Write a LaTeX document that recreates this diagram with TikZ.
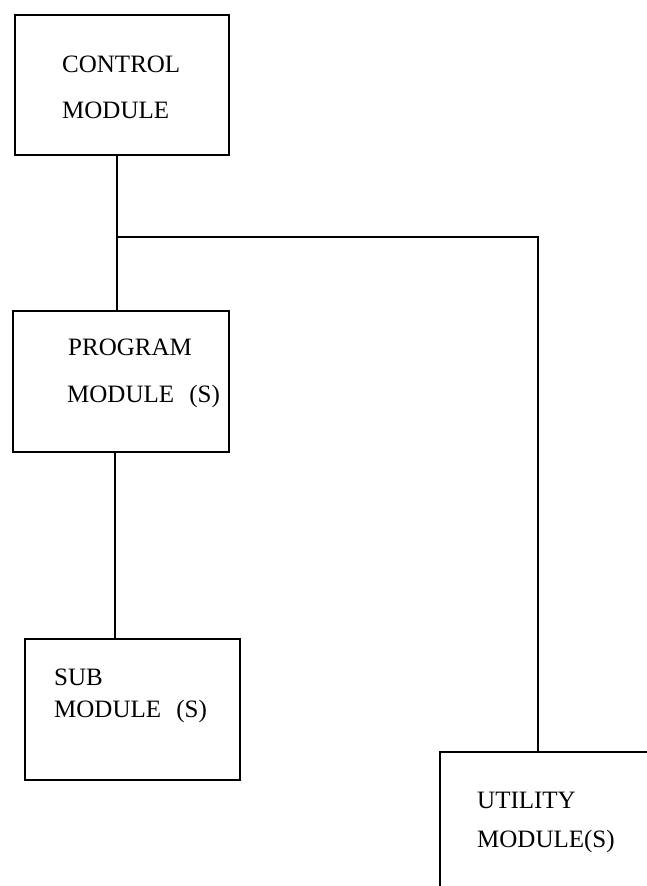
\documentclass[tikz,border=0pt]{standalone}
\usepackage{fontspec}
\setmainfont{Liberation Serif}
\usetikzlibrary{positioning}

\begin{document}
\begin{tikzpicture}[x=1pt,y=-1pt,
  modbox/.style={draw,line width=1.9pt,inner sep=0pt},
  modtext/.style={anchor=base west,inner sep=0pt,font=\fontsize{25}{28}\selectfont}]
\path[use as bounding box] (0,0) rectangle (647,886);
\begin{scope}
\clip (0,0) rectangle (647,886);
% boxes
\node[modbox,minimum width=214pt,minimum height=140pt] (ctrl) at (122,85) {};
\node[modbox,minimum width=216pt,minimum height=141pt] (prog) at (121,381.5) {};
\node[modbox,minimum width=215pt,minimum height=141pt] (sub) at (132.5,709.5) {};
\node[modbox,minimum width=240pt,minimum height=216pt] (util) at (560,860) {};

% texts
\node[modtext] (ctrlA) at (62,72) {CONTROL};
\node[modtext] (ctrlB) at (62,118) {MODULE};
\node[modtext] (progA) at (68,355) {PROGRAM};
\node[modtext] (progB) at (67,402) {MODULE\hspace{9pt} (S)};
\node[modtext] (subA) at (54,685) {SUB};
\node[modtext] (subB) at (54,717) {MODULE\hspace{9pt} (S)};
\node[modtext] (utilA) at (477,808) {UTILITY};
\node[modtext] (utilB) at (477,847) {MODULE(S)};

% connectors
\coordinate (j) at (117,237);
\coordinate (jr) at (538,237);
\coordinate (k) at (115,540);
\draw[line width=1.9pt] (ctrl.south -| j) -- (prog.north -| j);
\draw[line width=1.9pt] (j) -- (jr) -- (util.north -| jr);
\draw[line width=1.9pt] (prog.south -| k) -- (sub.north -| k);
\end{scope}
\end{tikzpicture}
\end{document}
